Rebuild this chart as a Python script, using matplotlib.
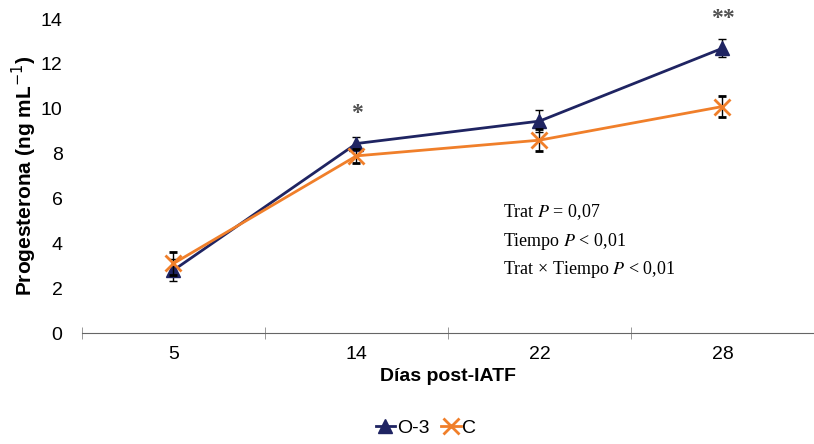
import numpy as np
import matplotlib.pyplot as plt

dias = ['5', '14', '22', '28']
o3 = [2.8, 8.45, 9.45, 12.7]
o3_err = [0.5, 0.3, 0.5, 0.4]
ctrl = [3.1, 7.9, 8.6, 10.1]
ctrl_err = [0.5, 0.3, 0.5, 0.45]
estrellas = ['', '*', '', '**']

plt.rcParams['font.family'] = ['Liberation Sans', 'DejaVu Sans']

fig = plt.figure(figsize=(8.14, 4.44), dpi=100)
ax = fig.add_axes([0.1007, 0.25, 0.8993, 0.707])

x = np.arange(len(dias))
l1 = ax.errorbar(x, o3, yerr=o3_err, color='#1f2462', marker='^', markersize=10,
                 lw=2, ecolor='black', elinewidth=1, capsize=3, zorder=3)
l2 = ax.errorbar(x, ctrl, yerr=ctrl_err, color='#f07f2a', marker='x', markersize=11,
                 mew=2, lw=2, ecolor='black', elinewidth=1, capsize=3, zorder=4)

for i, s in enumerate(estrellas):
    if s:
        ax.text(x[i], o3[i] + 0.85, s, ha='center', va='bottom', fontsize=17,
                color='#505050', family='Liberation Serif', fontweight='bold')

notas = ['Trat $P$ = 0,07', 'Tiempo $P$ < 0,01', 'Trat × Tiempo $P$ < 0,01']
for k, t in enumerate(notas):
    ax.text(0.575, 0.385 - 0.092 * k, t, transform=ax.transAxes, fontsize=13,
            va='center', family='Liberation Serif', math_fontfamily='stix')

ax.set_xlim(-0.5, 3.5)
ax.set_ylim(0, 14)
ax.set_yticks(range(0, 15, 2))
ax.set_xticks(x)
ax.set_xticklabels(dias)
ax.set_xticks(np.arange(-0.5, 3.6, 1), minor=True)
ax.tick_params(axis='x', which='major', length=0, pad=9, labelsize=14)
ax.tick_params(axis='x', which='minor', length=8, direction='inout', color='#888888')
ax.tick_params(axis='y', length=0, pad=14, labelsize=14)

for s in ['top', 'right', 'left']:
    ax.spines[s].set_visible(False)
ax.spines['bottom'].set_color('#666666')

ax.set_xlabel('Días post-IATF', fontsize=14, fontweight='bold', labelpad=4)
ax.set_ylabel('Progesterona (ng mL$^{-1}$)', fontsize=15, fontweight='bold', labelpad=1)

ax.legend([l1.lines[0], l2.lines[0]], ['O-3', 'C'], loc='upper center',
          bbox_to_anchor=(0.47, -0.22), ncol=2, frameon=False, fontsize=14,
          handlelength=1.0, handletextpad=0.1, columnspacing=0.6)

fig.savefig('out.png', dpi=100)
